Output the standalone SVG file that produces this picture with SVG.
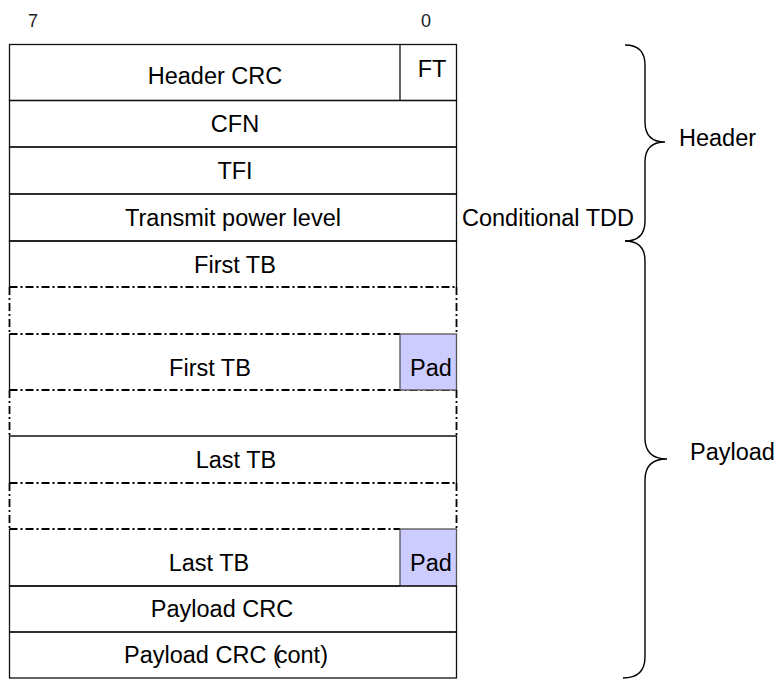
<svg xmlns="http://www.w3.org/2000/svg" width="779" height="686" viewBox="0 0 779 686">
  <style>
    text { font-family: "Liberation Sans", Arial, sans-serif; font-size: 23.5px; fill: #000; }
    .mid { text-anchor: middle; }
    .bit { font-size: 18px; fill: #222; }
    .solid { fill: none; stroke: #111; stroke-width: 1.3; }
    .dd { fill: none; stroke: #000; stroke-width: 1.8; stroke-dasharray: 8 3 2 3; }
    .pad { fill: #ccccff; stroke: #555; stroke-width: 1.3; }
    .brace { fill: none; stroke: #000; stroke-width: 1.4; }
  </style>

  <!-- bit numbering -->
  <text class="bit mid" x="33" y="27">7</text>
  <text class="bit mid" x="426" y="27">0</text>

  <g id="row-header-crc">
    <rect class="solid" x="9.5" y="44.5" width="447" height="56"/>
    <line class="solid" x1="400" y1="44.5" x2="400" y2="100.5"/>
    <text class="mid" x="215" y="84">Header CRC</text>
    <text class="mid" x="432" y="77">FT</text>
  </g>

  <g id="row-cfn">
    <rect class="solid" x="9.5" y="100.5" width="447" height="46.5"/>
    <text class="mid" x="235" y="132">CFN</text>
  </g>

  <g id="row-tfi">
    <rect class="solid" x="9.5" y="147" width="447" height="47"/>
    <text class="mid" x="235" y="179">TFI</text>
  </g>

  <g id="row-tx-power">
    <rect class="solid" x="9.5" y="194" width="447" height="47"/>
    <text class="mid" x="233" y="226">Transmit power level</text>
  </g>

  <g id="row-first-tb">
    <path class="solid" d="M9.5,287 V241 H456.5 V287"/>
    <line class="dd" x1="9.5" y1="287" x2="456.5" y2="287"/>
    <text class="mid" x="235" y="273">First TB</text>
  </g>

  <g id="row-first-tb-gap">
    <line class="dd" x1="9.5" y1="287" x2="9.5" y2="334"/>
    <line class="dd" x1="456.5" y1="287" x2="456.5" y2="334"/>
  </g>

  <g id="row-first-tb-end">
    <line class="solid" x1="9.5" y1="334" x2="9.5" y2="390"/>
    <line class="dd" x1="9.5" y1="334" x2="400" y2="334"/>
    <line class="dd" x1="9.5" y1="390" x2="456.5" y2="390"/>
    <rect class="pad" x="400" y="334" width="56.5" height="56"/>
    <text class="mid" x="210" y="376">First TB</text>
    <text class="mid" x="431" y="376">Pad</text>
  </g>

  <g id="row-first-tb-gap2">
    <line class="dd" x1="9.5" y1="390" x2="9.5" y2="436"/>
    <line class="dd" x1="456.5" y1="390" x2="456.5" y2="436"/>
  </g>

  <g id="row-last-tb">
    <path class="solid" d="M9.5,483 V436 H456.5 V483"/>
    <line class="dd" x1="9.5" y1="483" x2="456.5" y2="483"/>
    <text class="mid" x="236" y="468">Last TB</text>
  </g>

  <g id="row-last-tb-gap">
    <line class="dd" x1="9.5" y1="483" x2="9.5" y2="529"/>
    <line class="dd" x1="456.5" y1="483" x2="456.5" y2="529"/>
  </g>

  <g id="row-last-tb-end">
    <path class="solid" d="M9.5,529 V586 H400"/>
    <line class="dd" x1="9.5" y1="529" x2="400" y2="529"/>
    <rect class="pad" x="400" y="529" width="56.5" height="57"/>
    <text class="mid" x="209" y="571">Last TB</text>
    <text class="mid" x="431" y="571">Pad</text>
  </g>

  <g id="row-payload-crc">
    <rect class="solid" x="9.5" y="586" width="447" height="46"/>
    <text class="mid" x="222" y="617">Payload CRC</text>
  </g>

  <g id="row-payload-crc-cont">
    <rect class="solid" x="9.5" y="632" width="447" height="46"/>
    <text class="mid" x="226" y="663">Payload CRC (<tspan dx="-5">cont)</tspan></text>
  </g>

  <g id="row-conditional-label">
    <text x="462" y="226">Conditional TDD</text>
  </g>

  <!-- section braces -->
  <g id="connectors">
    <path class="brace" d="M625,45 Q645,45 645,65 L645,122 Q645,142 665,142 Q645,142 645,162 L645,221 Q645,241 625,241"/>
    <path class="brace" d="M625,241 Q645,241 645,261 L645,438 Q645,459 667,459 Q645,459 645,480 L645,657 Q645,678 623,678"/>
  </g>

  <g id="label-header">
    <text x="679" y="146">Header</text>
  </g>
  <g id="label-payload">
    <text x="690" y="460">Payload</text>
  </g>
</svg>
